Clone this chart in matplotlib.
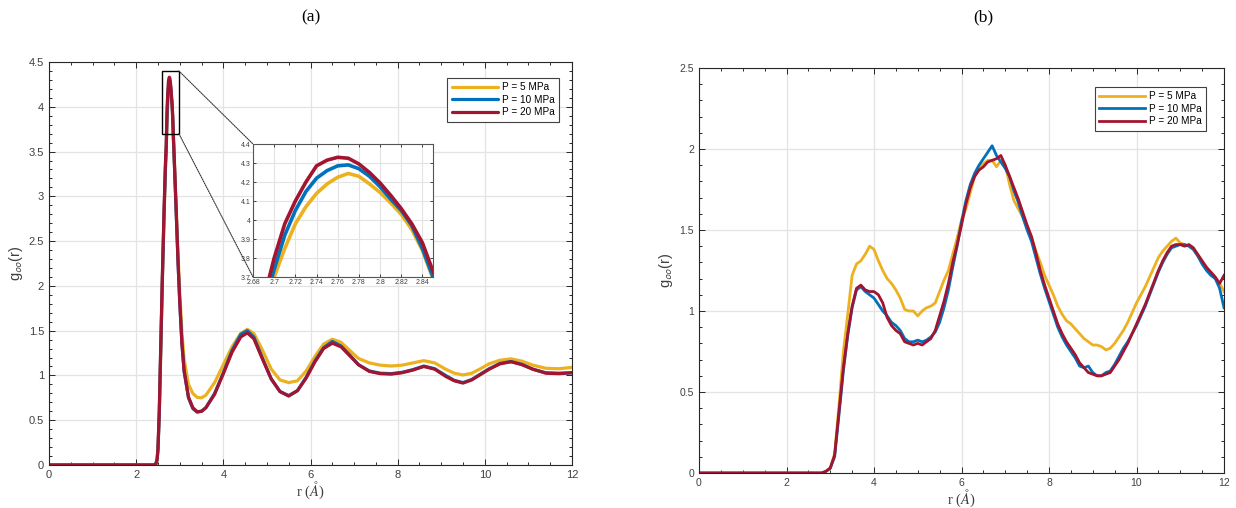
import matplotlib
matplotlib.use("Agg")
import matplotlib.pyplot as plt
from matplotlib.patches import Rectangle, ConnectionPatch
from matplotlib.ticker import MultipleLocator, FuncFormatter

# ---------------- data: panel (a) ----------------
r_a = [0, 2.40, 2.45, 2.48, 2.50, 2.53, 2.56, 2.60, 2.64, 2.67,
       2.69, 2.70, 2.71, 2.72, 2.73, 2.74, 2.75, 2.76, 2.77, 2.78,
       2.79, 2.80, 2.81, 2.82, 2.83, 2.84, 2.85, 2.88, 2.92, 2.96,
       3.00, 3.05, 3.10, 3.20, 3.30, 3.40, 3.50, 3.60, 3.80, 4.00,
       4.20, 4.40, 4.55, 4.70, 4.90, 5.10, 5.30, 5.50, 5.70, 5.90,
       6.10, 6.30, 6.50, 6.70, 6.90, 7.10, 7.35, 7.60, 7.85, 8.10,
       8.35, 8.60, 8.85, 9.10, 9.30, 9.50, 9.70, 9.90, 10.10, 10.35,
       10.60, 10.85, 11.10, 11.40, 11.70, 12.00]

g_a_5 = [0, 0, 0.01, 0.06, 0.17, 0.56, 1.18, 2.02, 2.78, 3.28,
         3.52, 3.70, 3.85, 3.98, 4.07, 4.14, 4.19, 4.225, 4.245, 4.23,
         4.19, 4.145, 4.09, 4.03, 3.95, 3.84, 3.69, 3.33, 2.85, 2.35,
         1.92, 1.48, 1.18, 0.90, 0.80, 0.755, 0.75, 0.78, 0.92, 1.12,
         1.32, 1.47, 1.515, 1.47, 1.28, 1.07, 0.95, 0.92, 0.94, 1.05,
         1.21, 1.35, 1.405, 1.37, 1.28, 1.19, 1.14, 1.115, 1.105, 1.115,
         1.14, 1.165, 1.14, 1.07, 1.025, 1.005, 1.025, 1.075, 1.13, 1.17,
         1.185, 1.16, 1.115, 1.08, 1.075, 1.09]

g_a_10 = [0, 0, 0.01, 0.06, 0.17, 0.57, 1.20, 2.05, 2.80, 3.30,
          3.54, 3.74, 3.92, 4.05, 4.15, 4.22, 4.26, 4.285, 4.29, 4.27,
          4.23, 4.175, 4.11, 4.05, 3.97, 3.85, 3.70, 3.32, 2.80, 2.27,
          1.82, 1.36, 1.05, 0.75, 0.63, 0.59, 0.60, 0.64, 0.80, 1.03,
          1.28, 1.46, 1.50, 1.43, 1.19, 0.96, 0.82, 0.775, 0.83, 0.98,
          1.16, 1.31, 1.38, 1.33, 1.23, 1.12, 1.05, 1.025, 1.02, 1.035,
          1.065, 1.105, 1.075, 1.00, 0.945, 0.92, 0.955, 1.015, 1.075, 1.135,
          1.155, 1.125, 1.07, 1.03, 1.025, 1.03]

g_a_20 = [0, 0, 0.01, 0.06, 0.18, 0.60, 1.25, 2.10, 2.85, 3.35,
          3.58, 3.80, 3.98, 4.10, 4.20, 4.285, 4.315, 4.33, 4.325, 4.295,
          4.25, 4.195, 4.13, 4.06, 3.98, 3.88, 3.73, 3.35, 2.82, 2.28,
          1.82, 1.35, 1.05, 0.76, 0.64, 0.595, 0.60, 0.64, 0.79, 1.02,
          1.26, 1.43, 1.475, 1.41, 1.18, 0.96, 0.82, 0.77, 0.83, 0.97,
          1.15, 1.30, 1.36, 1.32, 1.22, 1.12, 1.045, 1.02, 1.015, 1.03,
          1.06, 1.10, 1.07, 0.99, 0.94, 0.915, 0.95, 1.01, 1.07, 1.13,
          1.153, 1.12, 1.07, 1.025, 1.02, 1.03]

# ---------------- data: panel (b) ----------------
r_b = [0, 2.8, 2.9, 3.0, 3.1, 3.2, 3.3, 3.4, 3.5, 3.6, 3.7, 3.8, 3.9,
       4.0, 4.1, 4.2, 4.3, 4.4, 4.5, 4.6, 4.7, 4.8, 4.9,
       5.0, 5.1, 5.2, 5.3, 5.4, 5.5, 5.6, 5.7, 5.8, 5.9,
       6.0, 6.1, 6.2, 6.3, 6.4, 6.5, 6.6, 6.7, 6.8, 6.9,
       7.0, 7.1, 7.2, 7.3, 7.4, 7.5, 7.6, 7.7, 7.8, 7.9,
       8.0, 8.1, 8.2, 8.3, 8.4, 8.5, 8.6, 8.7, 8.8, 8.9,
       9.0, 9.1, 9.2, 9.3, 9.4, 9.5, 9.6, 9.7, 9.8, 9.9,
       10.0, 10.1, 10.2, 10.3, 10.4, 10.5, 10.6, 10.7, 10.8, 10.9,
       11.0, 11.1, 11.2, 11.3, 11.4, 11.5, 11.6, 11.7, 11.8, 11.9, 12.0]

g_b_5 = [0, 0, 0.01, 0.03, 0.12, 0.42, 0.75, 0.98, 1.22, 1.29, 1.31, 1.35, 1.40,
         1.38, 1.31, 1.25, 1.20, 1.17, 1.13, 1.08, 1.01, 1.00, 1.00,
         0.97, 1.00, 1.02, 1.03, 1.05, 1.12, 1.19, 1.25, 1.35, 1.45,
         1.56, 1.63, 1.73, 1.83, 1.89, 1.91, 1.93, 1.93, 1.89, 1.93,
         1.90, 1.78, 1.68, 1.63, 1.58, 1.52, 1.45, 1.37, 1.30, 1.22,
         1.16, 1.10, 1.03, 0.98, 0.94, 0.92, 0.89, 0.86, 0.83, 0.81,
         0.79, 0.79, 0.78, 0.76, 0.77, 0.80, 0.84, 0.88, 0.93, 0.99,
         1.05, 1.10, 1.15, 1.21, 1.27, 1.33, 1.37, 1.40, 1.43, 1.45,
         1.42, 1.41, 1.40, 1.38, 1.34, 1.30, 1.27, 1.23, 1.20, 1.17, 1.12]

g_b_10 = [0, 0, 0.01, 0.03, 0.10, 0.36, 0.63, 0.85, 1.02, 1.13, 1.15, 1.12, 1.10,
          1.08, 1.04, 1.00, 0.97, 0.93, 0.91, 0.88, 0.83, 0.81, 0.81,
          0.82, 0.81, 0.82, 0.84, 0.87, 0.93, 1.02, 1.13, 1.27, 1.40,
          1.55, 1.68, 1.78, 1.85, 1.90, 1.94, 1.98, 2.02, 1.96, 1.92,
          1.88, 1.83, 1.74, 1.67, 1.58, 1.50, 1.43, 1.33, 1.23, 1.14,
          1.06, 0.98, 0.90, 0.84, 0.79, 0.75, 0.71, 0.66, 0.65, 0.66,
          0.62, 0.60, 0.60, 0.62, 0.63, 0.67, 0.72, 0.77, 0.81, 0.86,
          0.91, 0.97, 1.03, 1.10, 1.17, 1.24, 1.30, 1.35, 1.39, 1.40,
          1.41, 1.41, 1.40, 1.38, 1.34, 1.29, 1.25, 1.22, 1.20, 1.14, 1.02]

g_b_20 = [0, 0, 0.01, 0.03, 0.11, 0.38, 0.65, 0.86, 1.03, 1.14, 1.16, 1.13, 1.12,
          1.12, 1.10, 1.05, 0.96, 0.91, 0.88, 0.86, 0.81, 0.80, 0.79,
          0.80, 0.79, 0.81, 0.83, 0.88, 0.97, 1.06, 1.17, 1.30, 1.41,
          1.53, 1.66, 1.76, 1.83, 1.87, 1.89, 1.92, 1.93, 1.94, 1.96,
          1.90, 1.83, 1.76, 1.69, 1.61, 1.53, 1.46, 1.36, 1.25, 1.16,
          1.08, 1.00, 0.92, 0.86, 0.81, 0.77, 0.73, 0.68, 0.65, 0.62,
          0.61, 0.60, 0.60, 0.61, 0.62, 0.66, 0.70, 0.75, 0.80, 0.86,
          0.92, 0.98, 1.04, 1.11, 1.18, 1.25, 1.31, 1.36, 1.40, 1.41,
          1.41, 1.40, 1.41, 1.39, 1.35, 1.31, 1.27, 1.24, 1.21, 1.17, 1.22]

labels = ["P = 5 MPa", "P = 10 MPa", "P = 20 MPa"]
colors = ["#EDB120", "#0072BD", "#A2142F"]

# ---------------- style ----------------
plt.rcParams['font.family'] = ['Liberation Sans', 'DejaVu Sans']
plt.rcParams['mathtext.fontset'] = 'stix'
TICK_COLOR = '#262626'
LABEL_COLOR = '#404040'
GRID_COLOR = '#e3e3e3'

fig = plt.figure(figsize=(12.36, 5.08), dpi=100)
W, H = 1236.0, 508.0

def box(x0, x1, y0, y1):
    return [x0 / W, 1 - y1 / H, (x1 - x0) / W, (y1 - y0) / H]

fmt = FuncFormatter(lambda v, p: '%g' % round(v, 3))

def style_axes(ax, ymax, ystep, yminor, fs=8):
    ax.set_xlim(0, 12)
    ax.set_ylim(0, ymax)
    ax.xaxis.set_major_locator(MultipleLocator(2))
    ax.xaxis.set_minor_locator(MultipleLocator(0.5))
    ax.yaxis.set_major_locator(MultipleLocator(ystep))
    ax.yaxis.set_minor_locator(MultipleLocator(yminor))
    ax.yaxis.set_major_formatter(fmt)
    ax.xaxis.set_major_formatter(fmt)
    ax.tick_params(which='both', direction='in', top=True, right=True,
                   colors=TICK_COLOR, labelcolor=LABEL_COLOR, labelsize=fs, width=0.7)
    ax.tick_params(which='major', length=4)
    ax.tick_params(which='minor', length=2)
    ax.grid(True, which='major', color=GRID_COLOR, lw=0.9)
    ax.set_axisbelow(True)
    for s in ax.spines.values():
        s.set_color(TICK_COLOR)
        s.set_linewidth(0.8)
    ax.set_xlabel(r'r ($\mathit{\AA}$)', fontsize=10.5, color=LABEL_COLOR, labelpad=0,
                  family='Liberation Serif')
    ax.set_ylabel(r'g$_{\mathsf{oo}}$(r)', fontsize=10.5, color=LABEL_COLOR, labelpad=3)

def add_legend(ax, anchor):
    leg = ax.legend(loc='upper right', bbox_to_anchor=anchor, fontsize=7.2,
                    handlelength=4.6, handletextpad=0.4, borderpad=0.45, labelspacing=0.25,
                    fancybox=False, framealpha=1, edgecolor='#404040')
    leg.get_frame().set_linewidth(0.8)
    return leg

# ---------------- panel (a) ----------------
ax1 = fig.add_axes(box(49, 572, 62, 465))
for g, c, lab in zip([g_a_5, g_a_10, g_a_20], colors, labels):
    ax1.plot(r_a, g, color=c, lw=2.3, label=lab, solid_capstyle='round')
style_axes(ax1, 4.5, 0.5, 0.1)
add_legend(ax1, (0.985, 0.973))

# zoom rectangle
ax1.add_patch(Rectangle((2.60, 3.70), 0.38, 0.70, fill=False, ec='black', lw=1.0, zorder=5))

# inset
axin = fig.add_axes(box(253, 433, 144, 277))
for g, c in zip([g_a_5, g_a_10, g_a_20], colors):
    axin.plot(r_a, g, color=c, lw=2.6)
axin.set_xlim(2.68, 2.85)
axin.set_ylim(3.7, 4.4)
axin.xaxis.set_major_locator(MultipleLocator(0.02))
axin.yaxis.set_major_locator(MultipleLocator(0.1))
axin.xaxis.set_major_formatter(fmt)
axin.yaxis.set_major_formatter(fmt)
axin.tick_params(which='both', direction='in', top=True, right=True, length=2.5,
                 colors=TICK_COLOR, labelcolor=LABEL_COLOR, labelsize=5, pad=1.5, width=0.6)
axin.grid(True, color=GRID_COLOR, lw=0.8)
axin.set_axisbelow(True)
for s in axin.spines.values():
    s.set_color('#555555')
    s.set_linewidth(0.8)

for yA, yB in [(4.40, 1.0), (3.70, 0.0)]:
    con = ConnectionPatch(xyA=(2.98, yA), coordsA=ax1.transData,
                          xyB=(0.0, yB), coordsB=axin.transAxes,
                          linestyle=(0, (1, 1)), color='#333333', lw=0.8)
    fig.add_artist(con)

# ---------------- panel (b) ----------------
ax2 = fig.add_axes(box(699, 1224, 68, 473))
for g, c, lab in zip([g_b_5, g_b_10, g_b_20], colors, labels):
    ax2.plot(r_b, g, color=c, lw=2.0, label=lab)
style_axes(ax2, 2.5, 0.5, 0.1, fs=7.5)
add_legend(ax2, (0.976, 0.966))

# ---------------- panel titles ----------------
fig.text(311 / W, 1 - 17 / H, '(a)', ha='center', va='center', fontsize=12.5,
         family='Liberation Serif')
fig.text(983 / W, 1 - 17 / H, '(b)', ha='center', va='center', fontsize=12.5,
         family='Liberation Serif')

fig.savefig('out.png', dpi=100)
